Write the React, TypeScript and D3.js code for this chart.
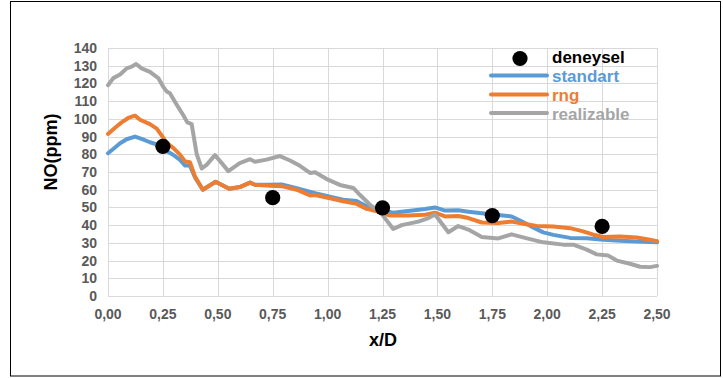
import React from "react";
import * as d3 from "d3";

// Axis ticks
const xTickValues = [0, 0.25, 0.5, 0.75, 1, 1.25, 1.5, 1.75, 2, 2.25, 2.5];
const yTickValues = [0, 10, 20, 30, 40, 50, 60, 70, 80, 90, 100, 110, 120, 130, 140];

// Measured points (deneysel)
const deneyselX = [0.25, 0.75, 1.25, 1.75, 2.25];
const deneyselY = [84.5, 55.5, 49.8, 45.4, 39.3];

// k-epsilon standart
const standartX = [0, 0.032, 0.055, 0.085, 0.123, 0.153, 0.191, 0.229, 0.267, 0.298, 0.328, 0.351, 0.373, 0.396, 0.432, 0.49, 0.552, 0.6, 0.647, 0.669, 0.738, 0.791, 0.859, 0.943, 1.011, 1.071, 1.132, 1.178, 1.224, 1.299, 1.367, 1.444, 1.489, 1.535, 1.595, 1.641, 1.702, 1.777, 1.838, 1.876, 1.922, 1.982, 2.028, 2.104, 2.18, 2.255, 2.332, 2.408, 2.5];
const standartY = [80.6, 83.8, 86.2, 88.5, 90, 88.7, 86.8, 85.3, 81.9, 79.6, 76.8, 73.6, 73.6, 67, 60, 64.5, 60.5, 61.5, 64, 62.8, 62.8, 63, 60.8, 58, 56.1, 54.4, 53.6, 50.6, 48.8, 47, 48, 49.1, 50, 48.2, 48.4, 47.6, 46.7, 45.7, 44.9, 42.6, 39.6, 35.9, 34.5, 32.8, 32.6, 31.7, 31.2, 30.8, 30.3];

// k-epsilon rng
const rngX = [0, 0.032, 0.062, 0.092, 0.123, 0.146, 0.191, 0.222, 0.245, 0.267, 0.298, 0.328, 0.351, 0.373, 0.396, 0.432, 0.49, 0.552, 0.6, 0.647, 0.669, 0.738, 0.791, 0.859, 0.92, 0.943, 1.011, 1.071, 1.132, 1.178, 1.224, 1.284, 1.367, 1.444, 1.489, 1.535, 1.595, 1.641, 1.702, 1.777, 1.838, 1.899, 1.952, 2.028, 2.104, 2.164, 2.21, 2.255, 2.332, 2.408, 2.468, 2.5];
const rngY = [91.5, 95, 98, 100.5, 101.8, 99.5, 97, 94.5, 90.5, 86.5, 83.5, 79.8, 76, 75.5, 67.5, 60, 64.5, 60.5, 61.5, 64, 62.8, 62.3, 62, 60, 56.8, 57, 55.2, 53.5, 52, 49.2, 47.8, 45.4, 45.4, 45.9, 47, 44.9, 45.2, 44, 41.5, 41.2, 42, 40.6, 39.5, 39.2, 38.3, 36.5, 34.6, 33.3, 33.6, 33, 31.8, 31];

// k-epsilon realizable
const realizableX = [0, 0.024, 0.055, 0.085, 0.108, 0.128, 0.153, 0.191, 0.229, 0.252, 0.267, 0.282, 0.313, 0.343, 0.361, 0.381, 0.404, 0.427, 0.449, 0.487, 0.518, 0.548, 0.6, 0.647, 0.669, 0.722, 0.783, 0.829, 0.874, 0.92, 0.943, 0.996, 1.056, 1.117, 1.148, 1.193, 1.239, 1.299, 1.337, 1.413, 1.459, 1.489, 1.55, 1.595, 1.641, 1.702, 1.777, 1.838, 1.899, 1.982, 2.073, 2.119, 2.18, 2.225, 2.278, 2.317, 2.377, 2.423, 2.468, 2.5];
const realizableY = [119, 123, 125, 128.5, 129.5, 131, 128.5, 126.5, 123, 118, 115.5, 114.5, 108, 102, 98, 97, 80, 72, 74, 79.5, 75, 70.5, 75, 77.2, 75.8, 77, 79, 76.5, 73.5, 69.5, 69.8, 66, 62.7, 61, 57, 51.5, 47.5, 37.8, 40, 42, 44, 46, 36, 39.5, 37.5, 33.3, 32.5, 34.8, 32.8, 30.3, 29, 29, 26.2, 23.5, 22.8, 20, 18.2, 16.5, 16.3, 17];

const seriesNames = ["standart", "rng", "realizable"];
const seriesColors = ["#5B9BD5", "#ED7D31", "#A5A5A5"];

const W = 723;
const H = 378;
const FONT = "'Liberation Sans', Arial, sans-serif";

export default function App() {
  const x = d3.scaleLinear().domain([0, 2.5]).range([108, 657]);
  const y = d3.scaleLinear().domain([0, 140]).range([296, 48]);

  const line = d3
    .line<[number, number]>()
    .x((d) => x(d[0]))
    .y((d) => y(d[1]));

  const series = [
    d3.zip(standartX, standartY) as [number, number][],
    d3.zip(rngX, rngY) as [number, number][],
    d3.zip(realizableX, realizableY) as [number, number][],
  ];

  const fmt = (v: number) => d3.format(".2f")(v).replace(".", ",");

  const legendLineY = [75.5, 94.5, 113];
  const legendTextY = [82, 101, 120];

  return (
    <svg
      width={W}
      height={H}
      style={{ position: "absolute", left: 0, top: 0, background: "#fff" }}
      fontFamily={FONT}
    >
      <rect x={0} y={0} width={W} height={H} fill="#fff" />
      <rect x={10.5} y={1.5} width={710} height={374.5} fill="none" stroke="#000" strokeWidth={1} />

      {/* grid */}
      {yTickValues.map((v) => (
        <line key={"h" + v} x1={x(0)} x2={x(2.5)} y1={Math.round(y(v)) + 0.5} y2={Math.round(y(v)) + 0.5} stroke="#D9D9D9" strokeWidth={1} />
      ))}
      {xTickValues.map((v) => (
        <line key={"v" + v} x1={Math.round(x(v)) + 0.5} x2={Math.round(x(v)) + 0.5} y1={y(140)} y2={y(0)} stroke="#D9D9D9" strokeWidth={1} />
      ))}

      {/* tick labels */}
      {yTickValues.map((v) => (
        <text key={"yl" + v} x={97} y={y(v) + 5} textAnchor="end" fontSize={14} fontWeight="bold" fill="#595959">
          {v}
        </text>
      ))}
      {xTickValues.map((v) => (
        <text key={"xl" + v} x={x(v)} y={319} textAnchor="middle" fontSize={14} fontWeight="bold" fill="#595959">
          {fmt(v)}
        </text>
      ))}

      {/* axis titles */}
      <text x={383} y={346} textAnchor="middle" fontSize={18} fontWeight="bold" fill="#000">
        x/D
      </text>
      <text transform="translate(57,152) rotate(-90)" textAnchor="middle" fontSize={18} fontWeight="bold" fill="#000">
        NO(ppm)
      </text>

      {/* simulation curves */}
      {series.map((s, i) => (
        <path key={seriesNames[i]} d={line(s) || ""} fill="none" stroke={seriesColors[i]} strokeWidth={4} strokeLinejoin="round" strokeLinecap="round" />
      ))}

      {/* measurements */}
      {deneyselX.map((v, i) => (
        <circle key={"d" + i} cx={x(v)} cy={y(deneyselY[i])} r={7.6} fill="#000" />
      ))}

      {/* legend */}
      <circle cx={520} cy={58.5} r={7.6} fill="#000" />
      <text x={552} y={63} fontSize={17} fontWeight="bold" fill="#000">
        deneysel
      </text>
      {seriesNames.map((n, i) => (
        <g key={"lg" + n}>
          <line x1={491} x2={547} y1={legendLineY[i]} y2={legendLineY[i]} stroke={seriesColors[i]} strokeWidth={4} strokeLinecap="round" />
          <text x={552} y={legendTextY[i]} fontSize={17} fontWeight="bold" fill={seriesColors[i]}>
            {n}
          </text>
        </g>
      ))}
    </svg>
  );
}
